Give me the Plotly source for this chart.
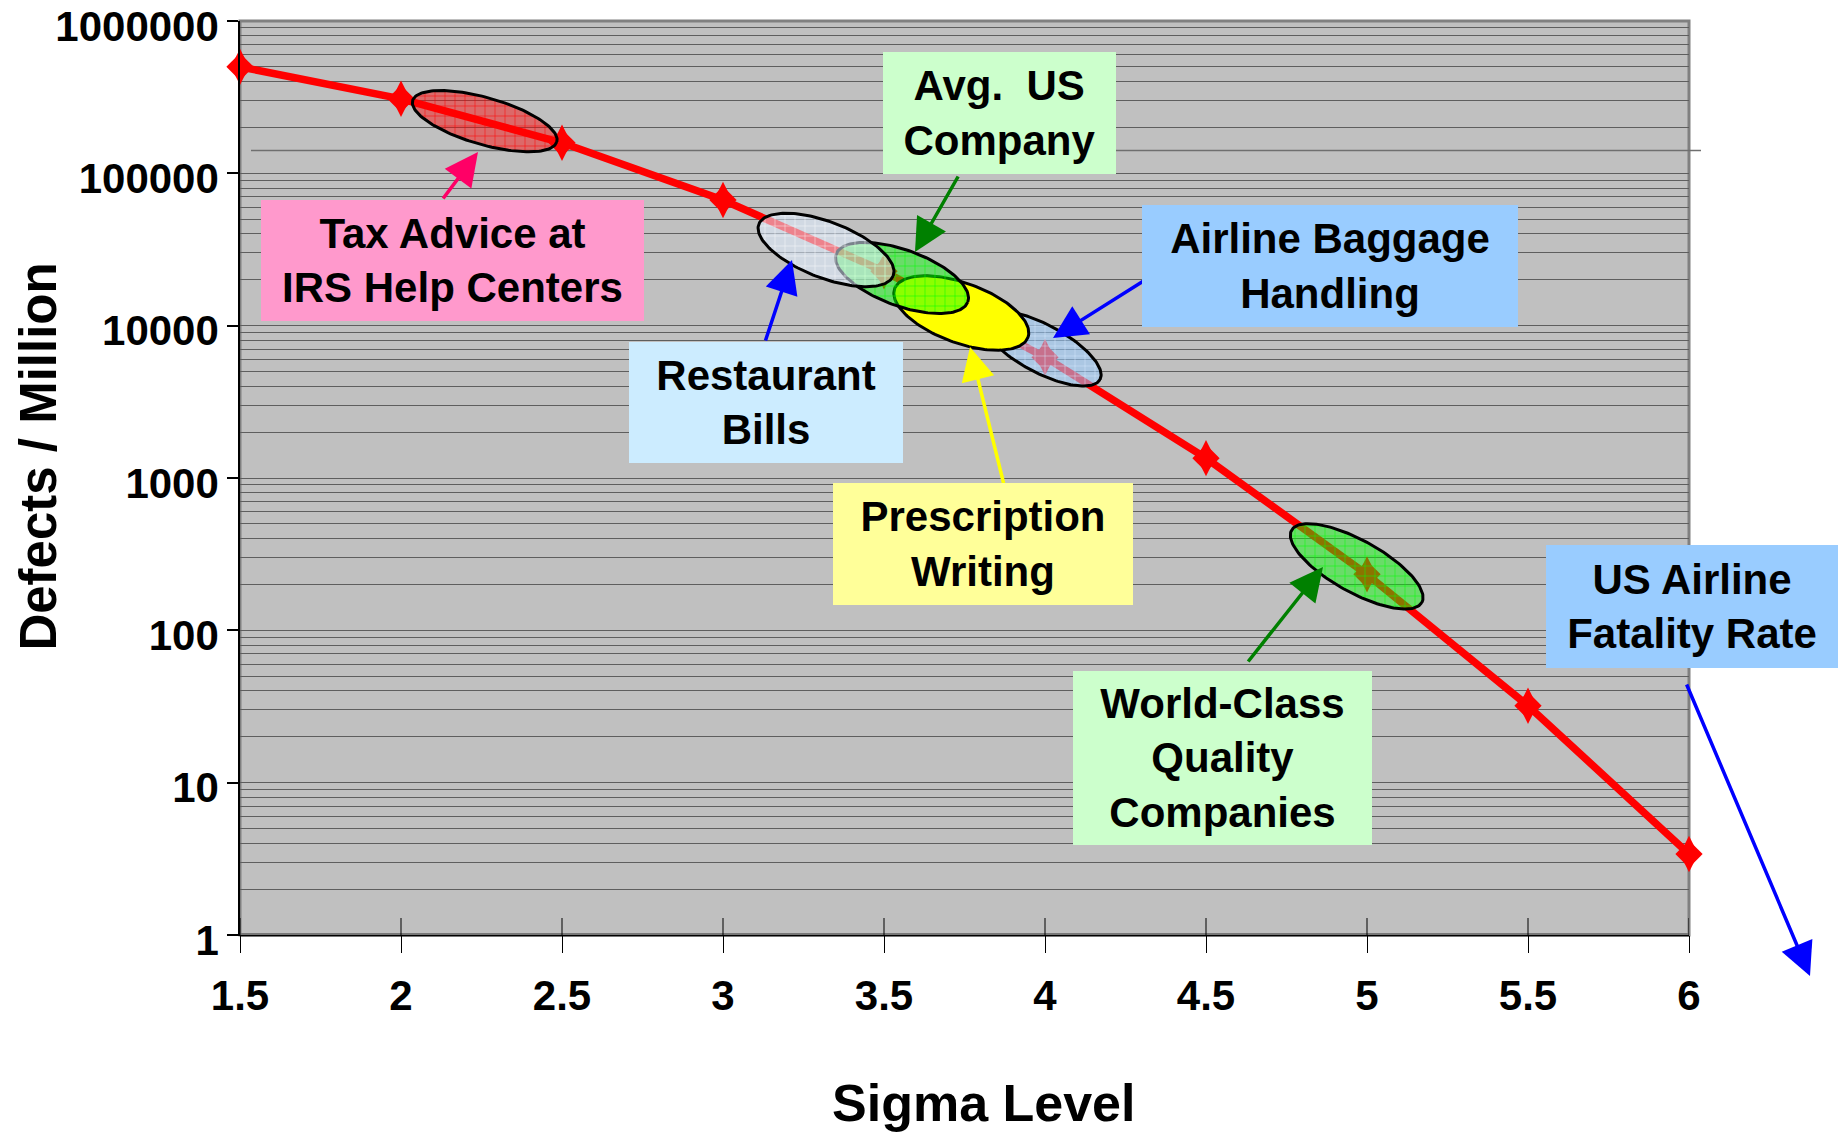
import numpy as np
import plotly.graph_objects as go

# ---- data -------------------------------------------------------------
sigma_levels = [1.5, 2.0, 2.5, 3.0, 3.5, 4.0, 4.5, 5.0, 5.5, 6.0]
defects_per_million = [500000, 308538, 158655, 66807, 22750, 6210, 1350, 233, 32, 3.4]

x_tick_values = [1.5, 2.0, 2.5, 3.0, 3.5, 4.0, 4.5, 5.0, 5.5, 6.0]
x_tick_labels = ["1.5", "2", "2.5", "3", "3.5", "4", "4.5", "5", "5.5", "6"]
y_tick_values = [1, 10, 100, 1000, 10000, 100000, 1000000]
y_tick_labels = ["1", "10", "100", "1000", "10000", "100000", "1000000"]

# where each process sits on the curve (sigma level, defects per million)
region_keys = ["tax", "baggage", "prescription", "avg_us", "restaurant", "world_class"]
region_sigma = [2.26, 3.99, 3.74, 3.556, 3.32, 4.968]
region_dpmo = [220000, 7080, 12110, 20560, 31400, 263]

# ---- page geometry ----------------------------------------------------
W, H = 1843, 1136
L, R, T, B = 240, 1689, 21, 935          # plot area edges in pixels
X_RANGE = [1.5, 6.0]
LOG_RANGE = [0, 6]
PX_PER_SIGMA = (R - L) / (X_RANGE[1] - X_RANGE[0])
PX_PER_DECADE = (B - T) / (LOG_RANGE[1] - LOG_RANGE[0])

FONT = "Liberation Sans, Arial, Helvetica, sans-serif"


def paper(px, py):
    """pixel position on the page -> paper coordinates"""
    return (px - L) / (R - L), (B - py) / (B - T)


def ellipse(sig, dpmo, a, b, angle, n=160):
    """rotated ellipse (semi-axes in pixels) around a point on the axes"""
    t = np.linspace(0, 2 * np.pi, n)
    th = np.radians(angle)
    dx = a * np.cos(t) * np.cos(th) - b * np.sin(t) * np.sin(th)
    dy = a * np.cos(t) * np.sin(th) + b * np.sin(t) * np.cos(th)
    xs = sig + dx / PX_PER_SIGMA
    ys = 10 ** (np.log10(dpmo) - dy / PX_PER_DECADE)
    return xs, ys


# ellipse styling: semi-axes (px), tilt (deg), fill
ellipse_style = {
    "tax": dict(a=75, b=23.5, ang=16, bg="rgba(255,0,0,0.45)", fg="#FF0000"),
    "baggage": dict(a=66, b=24, ang=28, bg="rgba(153,204,255,0.55)", fg="rgba(215,235,255,0.9)"),
    "prescription": dict(a=71, b=30, ang=20, solid="#FFFF00"),
    "avg_us": dict(a=70, b=28, ang=20, bg="rgba(0,255,0,0.45)", fg="#00FF00"),
    "restaurant": dict(a=72, b=28, ang=21, bg="rgba(222,236,255,0.55)", fg="rgba(255,255,255,0.85)"),
    "world_class": dict(a=74.5, b=26, ang=29, bg="rgba(0,255,0,0.45)", fg="#00FF00"),
}

fig = go.Figure()

# main curve with diamond markers
fig.add_trace(go.Scatter(
    x=sigma_levels, y=defects_per_million, mode="lines+markers",
    line=dict(color="#FF0000", width=7.5),
    marker=dict(symbol="diamond", size=21, color="#FF0000", line=dict(width=0)),
    cliponaxis=False, hoverinfo="skip",
))
fig.add_trace(go.Scatter(
    x=sigma_levels, y=defects_per_million, mode="markers",
    marker=dict(symbol="diamond-tall", size=26, color="#FF0000", line=dict(width=0)),
    cliponaxis=False, hoverinfo="skip",
))

# highlighted regions
for key, sig, dpmo in zip(region_keys, region_sigma, region_dpmo):
    st = ellipse_style[key]
    xs, ys = ellipse(sig, dpmo, st["a"], st["b"], st["ang"])
    kw = dict(x=xs, y=ys, mode="lines", fill="toself",
              line=dict(color="black", width=3), hoverinfo="skip")
    if "solid" in st:
        kw["fillcolor"] = st["solid"]
    else:
        kw["fillcolor"] = st["bg"]
        kw["fillpattern"] = dict(shape="+", fgcolor=st["fg"], bgcolor=st["bg"],
                                 size=10, solidity=0.1, fillmode="replace")
    fig.add_trace(go.Scatter(**kw))

# ---- shapes -----------------------------------------------------------
shapes = [
    dict(type="rect", xref="paper", yref="paper", x0=0, x1=1, y0=0, y1=1,
         line=dict(color="#808080", width=3), layer="between"),
    dict(type="line", xref="paper", yref="paper", x0=0, x1=1, y0=0, y1=0,
         line=dict(color="#777777", width=4), layer="between"),
]
# stray rule across the plot near the top
x0p, y0p = paper(251, 150.5)
x1p, _ = paper(1701, 150.5)
shapes.append(dict(type="line", xref="paper", yref="paper", x0=x0p, x1=x1p, y0=y0p, y1=y0p,
                   line=dict(color="#6F6F6F", width=1.5), layer="between"))
# tick marks that also reach into the plot area
for tv in x_tick_values:
    shapes.append(dict(type="line", xref="x", yref="paper", x0=tv, x1=tv, y0=0, y1=17 / (B - T),
                       line=dict(color="black", width=1), layer="above"))

# ---- annotations ------------------------------------------------------
label_font = dict(family=FONT, size=42, color="black", weight="bold")

boxes = [
    # text, left, top, right, bottom (px), colour
    ("Tax Advice at<br>IRS Help Centers", 261, 200, 644, 321, "#FF99CC"),
    ("Avg.\u00a0 US<br>Company", 883, 52, 1116, 174, "#CCFFCC"),
    ("Airline Baggage<br>Handling", 1142, 205, 1518, 327, "#99CCFF"),
    ("Restaurant<br>Bills", 629, 342, 903, 463, "#CCECFF"),
    ("Prescription<br>Writing", 833, 483, 1133, 605, "#FFFF99"),
    ("World-Class<br>Quality<br>Companies", 1073, 671, 1372, 845, "#CCFFCC"),
    ("US Airline<br>Fatality Rate", 1546, 545, 1838, 668, "#99CCFF"),
]

arrows = [
    # head (px), tail (px), colour
    ((478, 152), (442, 200), "#FF0066"),
    ((915, 252), (959, 175), "#008000"),
    ((1053, 338), (1145, 280), "#0000FF"),
    ((792, 260), (765, 342), "#0000FF"),
    ((970, 347), (1006, 493), "#FFFF00"),
    ((1323, 567), (1247, 663), "#008000"),
    ((1810, 976), (1686, 683), "#0000FF"),
]

annotations = []
for (hx, hy), (tx, ty), col in arrows:
    px_, py_ = paper(hx, hy)
    annotations.append(dict(
        x=px_, y=py_, xref="paper", yref="paper", text="", showarrow=True,
        ax=tx - hx, ay=ty - hy, axref="pixel", ayref="pixel",
        arrowhead=2, arrowsize=1.9, arrowwidth=3.5, arrowcolor=col, standoff=0,
    ))

for text, x0, y0, x1, y1, col in boxes:
    cx, cy = paper((x0 + x1) / 2, (y0 + y1) / 2)
    annotations.append(dict(
        x=cx, y=cy, xref="paper", yref="paper", xanchor="center", yanchor="middle",
        text=text, showarrow=False, align="center", valign="middle",
        width=x1 - x0, height=y1 - y0, bgcolor=col, borderpad=0, borderwidth=0,
        font=label_font,
    ))

# axis titles
tx_, ty_ = paper(37.6, 457)
annotations.append(dict(x=tx_, y=ty_, xref="paper", yref="paper", text="Defects / Million",
                        textangle=-90, showarrow=False, xanchor="center", yanchor="middle",
                        font=dict(family=FONT, size=51, color="black", weight="bold")))
tx_, ty_ = paper(983, 1103)
annotations.append(dict(x=tx_, y=ty_, xref="paper", yref="paper", text="Sigma Level",
                        showarrow=False, xanchor="center", yanchor="middle",
                        font=dict(family=FONT, size=52, color="black", weight="bold")))

fig.update_layout(
    width=W, height=H,
    margin=dict(l=L, r=W - R, t=T, b=H - B, pad=0, autoexpand=False),
    paper_bgcolor="white", plot_bgcolor="#C0C0C0",
    showlegend=False, hovermode=False,
    shapes=shapes, annotations=annotations,
    xaxis=dict(
        range=X_RANGE, tickvals=x_tick_values, ticktext=x_tick_labels,
        showgrid=False, zeroline=False, automargin=False,
        showline=True, linecolor="black", linewidth=1,
        ticks="outside", ticklen=17, tickwidth=1, tickcolor="black",
        ticklabelstandoff=7,
        tickfont=dict(family=FONT, size=42, color="black", weight="bold"),
    ),
    yaxis=dict(
        type="log", range=LOG_RANGE, tickvals=y_tick_values, ticktext=y_tick_labels,
        showgrid=True, gridcolor="#5E5E5E", gridwidth=1, zeroline=False, automargin=False,
        minor=dict(dtick="D1", showgrid=True, gridcolor="#5E5E5E", gridwidth=1, ticks=""),
        showline=True, linecolor="black", linewidth=1.5,
        ticks="outside", ticklen=11, tickwidth=1.5, tickcolor="black",
        ticklabeloverflow="allow", ticklabelshift=5,
        tickfont=dict(family=FONT, size=42, color="black", weight="bold"),
    ),
)

fig.write_html("out.html")
